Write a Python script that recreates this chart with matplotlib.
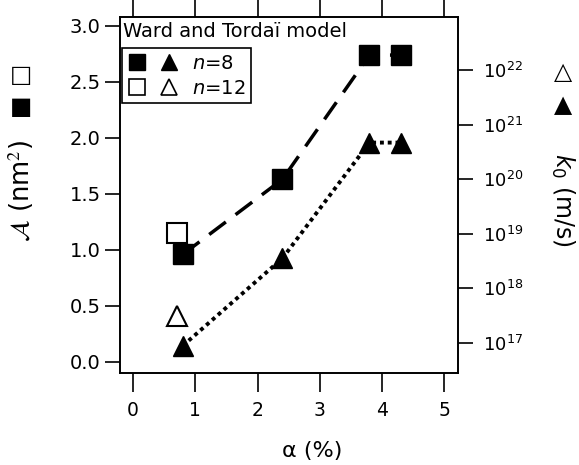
import numpy as np
import matplotlib
matplotlib.use("Agg")
import matplotlib.pyplot as plt
from matplotlib.lines import Line2D
from matplotlib.legend_handler import HandlerTuple

plt.rcParams['font.family'] = ['DejaVu Sans']
plt.rcParams['mathtext.fontset'] = 'dejavusans'

# 면적 (n=8, 채움 사각형) / (n=12, 빈 사각형)
alpha_n8 = [0.8, 2.4, 3.8, 4.3]
area_n8 = [0.96, 1.63, 2.74, 2.74]
alpha_n12 = [0.7]
area_n12 = [1.15]

# k0 (n=8, 채움 삼각형) / (n=12, 빈 삼각형)
k0_n8 = [10**16.95, 10**18.55, 10**20.67, 10**20.67]
k0_n12 = [10**17.5]

xticks = [0, 1, 2, 3, 4, 5]
yticks_left = [0.0, 0.5, 1.0, 1.5, 2.0, 2.5, 3.0]
yticks_right = [1e17, 1e18, 1e19, 1e20, 1e21, 1e22]

fig = plt.figure(figsize=(5.79, 4.65), dpi=100)
ax = fig.add_axes([0.2073, 0.1978, 0.5834, 0.7656])
ax2 = ax.twinx()

ms = 14
ax.plot(alpha_n8, area_n8, color='k', lw=2.5, dashes=(6, 3.5),
        marker='s', ms=ms, mfc='k', mec='k', zorder=3)
ax.plot(alpha_n12, area_n12, ls='none', marker='s', ms=ms, mfc='white',
        mec='k', mew=1.5, zorder=2)

ax2.plot(alpha_n8, k0_n8, color='k', lw=2.8, ls=(0, (1, 1)),
         marker='^', ms=ms + 1, mfc='k', mec='k', zorder=3)
ax2.plot(alpha_n12, k0_n12, ls='none', marker='^', ms=ms + 1, mfc='white',
         mec='k', mew=1.5, zorder=2)
ax2.set_yscale('log')

ax.set_xlim(-0.21, 5.22)
ax.set_ylim(-0.1, 3.08)
ax2.set_ylim(10**16.45, 10**22.97)

ax.set_xticks(xticks)
ax.set_yticks(yticks_left)
ax.set_yticklabels([f'{v:.1f}' for v in yticks_left])
ax2.set_yticks(yticks_right)
ax2.yaxis.set_minor_locator(matplotlib.ticker.NullLocator())

ax.tick_params(axis='x', which='both', direction='out', length=14, width=1.2,
               top=True, labeltop=False, labelsize=13.5, pad=6)
ax.tick_params(axis='y', direction='out', length=11, width=1.2, labelsize=14, pad=3)
ax2.tick_params(axis='y', direction='out', length=11, width=1.2, labelsize=13, pad=7)
for a in (ax, ax2):
    for s in a.spines.values():
        s.set_linewidth(1.2)

ax.set_xlabel('α (%)', fontsize=16)
ax.xaxis.set_label_coords(0.57, -0.19)

# 축 제목 (기호 포함)
fig.text(0.036, 0.59, r'$\mathcal{A}$ (nm$^2$)', rotation=90, fontsize=18.5,
         ha='center', va='center', math_fontfamily='stix')
fig.text(0.036, 0.838, '□', fontsize=17, ha='center', va='center')
fig.text(0.036, 0.77, '■', fontsize=17, ha='center', va='center')

fig.text(0.972, 0.57, '$k_0$ (m/s)', rotation=-90, fontsize=17,
         ha='center', va='center')
fig.text(0.972, 0.845, '△', fontsize=17, ha='center', va='center')
fig.text(0.972, 0.775, '▲', fontsize=17, ha='center', va='center')

ax.text(0.01, 0.985, 'Ward and Tordaï model', transform=ax.transAxes,
        fontsize=14, va='top', ha='left', zorder=5)

h8 = (Line2D([], [], ls='none', marker='s', ms=11, mfc='k', mec='k'),
      Line2D([], [], ls='none', marker='^', ms=12, mfc='k', mec='k'))
h12 = (Line2D([], [], ls='none', marker='s', ms=11, mfc='white', mec='k', mew=1.2),
       Line2D([], [], ls='none', marker='^', ms=12, mfc='white', mec='k', mew=1.2))
leg = ax2.legend([h8, h12], ['$n$=8', '$n$=12'],
                 handler_map={tuple: HandlerTuple(ndivide=None, pad=0.7)},
                 loc='upper left', bbox_to_anchor=(0.006, 0.913),
                 fontsize=14, frameon=True, fancybox=False, framealpha=1,
                 edgecolor='k', borderaxespad=0, handlelength=2.6,
                 handletextpad=0.7, borderpad=0.3, labelspacing=0.3)
leg.get_frame().set_linewidth(1.2)

fig.savefig('out.png', dpi=100)
